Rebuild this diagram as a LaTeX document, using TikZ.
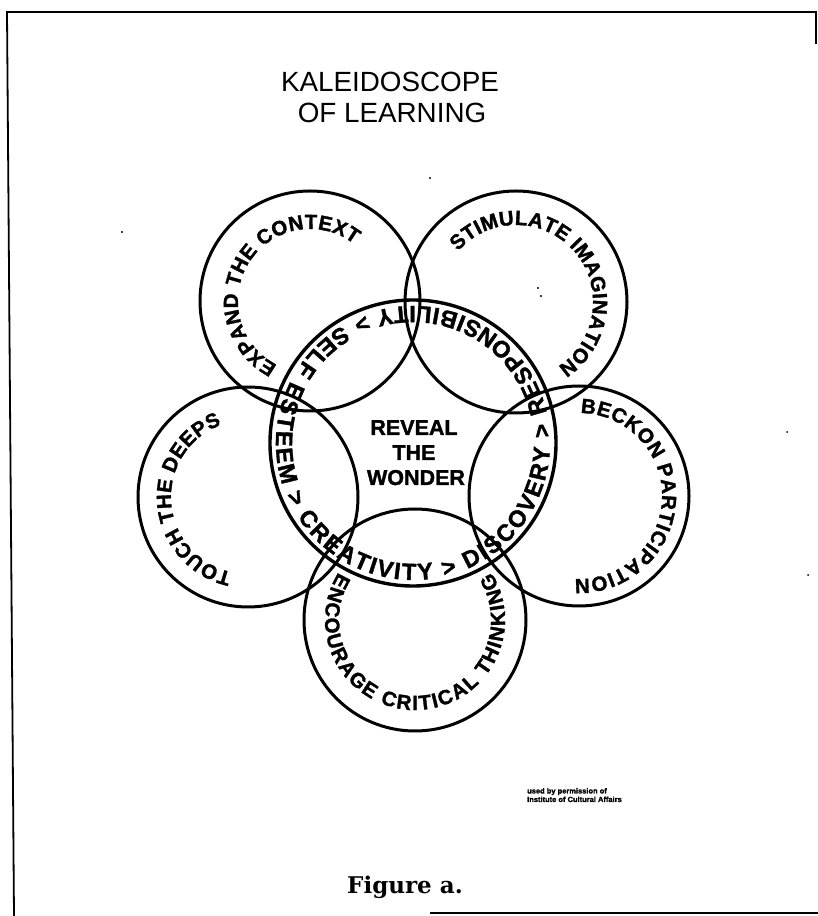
\documentclass[tikz,border=0pt]{standalone}
\usepackage{fontspec}
\usetikzlibrary{decorations.text}
\newfontfamily\helv{Liberation Sans}[BoldFeatures={FakeBold=1.5}]
\newfontfamily\figserif{DejaVu Serif}
\newcommand\ringfont{\helv\bfseries\fontsize{20.5}{24}\selectfont}
\newcommand\bigringfont{\helv\bfseries\fontsize{23.5}{28}\selectfont}
\newcommand\hubfont{\helv\bfseries\fontsize{21.5}{24}\selectfont}

\begin{document}
\begin{tikzpicture}[x=1pt, y=1pt,
        ring/.style={line width=3pt},
        frameline/.style={line width=1.8pt},
        ringtext/.style={decorate, decoration={text along path, text align=fit to path, text={|\ringfont|#1}}},
        hubtext/.style={decorate, decoration={text along path, text align=fit to path, text={|\bigringfont|#1}}}]
        \useasboundingbox (0,0) rectangle (818,916);

        \draw[frameline] (14,0) -- (7,904) -- (816,904) -- (816,872);
        \draw[frameline] (430,3) -- (818,3);

        \node[anchor=base, font=\helv\fontsize{27.8}{31}\selectfont] (title1) at (390,824) {KALEIDOSCOPE};
        \node[anchor=base, font=\helv\fontsize{27.8}{31}\selectfont] (title2) at (392,793) {OF LEARNING};

        \coordinate (hub) at (413,473);
        \coordinate (expand) at (310,615);
        \coordinate (stim) at (516,614);
        \coordinate (touch) at (248,419);
        \coordinate (beckon) at (579,420);
        \coordinate (crit) at (415,296);

        \draw[ring] (expand) circle (110);
        \draw[ring] (stim) circle (111);
        \draw[ring] (touch) circle (110);
        \draw[ring] (beckon) circle (110);
        \draw[ring] (crit) circle (111);
        \draw[ring, line width=3.4pt] (hub) circle (143);

        \path[hubtext={SELF ESTEEM > CREATIVITY > DISCOVERY > RESPONSIBILITY >}] (hub) ++(121:137) arc[start angle=121, end angle=476, radius=137];
        \path[ringtext={EXPAND THE CONTEXT}] (expand) ++(243:72) arc[start angle=243, end angle=52, radius=72];
        \path[ringtext={STIMULATE IMAGINATION}] (stim) ++(139:77) arc[start angle=139, end angle=-57, radius=77];
        \path[ringtext={TOUCH THE DEEPS}] (touch) ++(258:77) arc[start angle=258, end angle=110, radius=77];
        \path[ringtext={BECKON PARTICIPATION}] (beckon) ++(89:83) arc[start angle=89, end angle=-93, radius=83];
        \path[ringtext={ENCOURAGE CRITICAL THINKING}] (crit) ++(148:90) arc[start angle=148, end angle=392, radius=90];

        \node[anchor=base, font=\hubfont] (reveal) at (414,481) {REVEAL};
        \node[anchor=base, font=\hubfont] (the) at (414,456) {THE};
        \node[anchor=base, font=\hubfont] (wonder) at (416,431) {WONDER};

        \node[anchor=base west, align=left, inner sep=0, font=\helv\bfseries\fontsize{7.5}{8.5}\selectfont] (permit) at (527,114) {used by permission of\\Institute of Cultural Affairs};

        \node[anchor=base, font=\figserif\bfseries\fontsize{23}{28}\selectfont] (caption) at (405,23) {Figure a.};

        \fill (430,738) circle (1.2);
        \fill (538,628) circle (1.1);
        \fill (541,620) circle (1.1);
        \fill (122,684) circle (1.2);
        \fill (787,484) circle (1);
        \fill (808,341) circle (1);
    \end{tikzpicture}
\end{document}
